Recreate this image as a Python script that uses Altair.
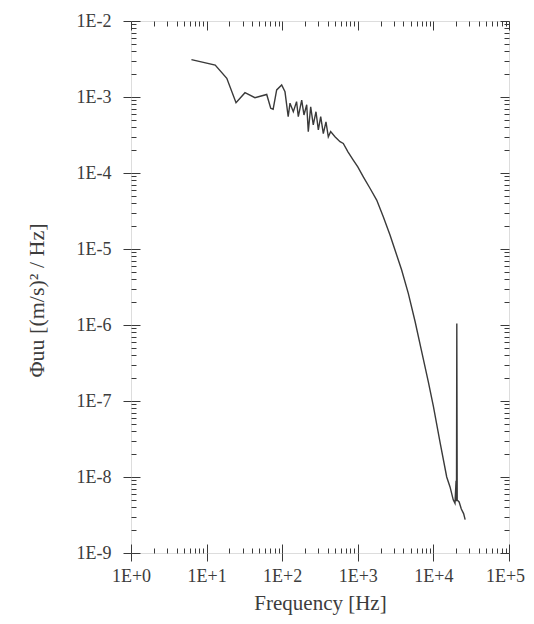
import altair as alt
import pandas as pd

# Spectrum (frequency in Hz, PSD in (m/s)^2/Hz)
freq = [6.3, 13, 18.5, 24.5, 32.2, 43.6, 62.4, 70.5, 75.9, 84.5, 98.4, 108.9,
        120, 126.8, 140.3, 154.9, 163.3, 181.1, 194.1, 210.9, 221.3, 238.2,
        257.6, 279.9, 300.6, 323.1, 349.9, 379.3, 407.4, 437.5, 499, 582, 643,
        741, 871, 1000, 1183, 1449, 1778, 2173, 2667, 3105, 3802, 4656,
        5715, 6918, 8570, 10000, 12300, 15000, 16600, 18300, 19300, 19950,
        20200, 20400, 20650, 21900, 23400, 25100, 26300]
psd = [3.1e-3, 2.63e-3, 1.76e-3, 8.4e-4, 1.14e-3, 9.8e-4, 1.08e-3, 7.1e-4,
       6.9e-4, 1.24e-3, 1.44e-3, 1.17e-3, 5.5e-4, 8.3e-4, 6.4e-4, 8.7e-4,
       5.5e-4, 9.1e-4, 5.8e-4, 7.9e-4, 3.5e-4, 7.4e-4, 4.3e-4, 6.4e-4, 3.7e-4,
       5.5e-4, 3.3e-4, 4.7e-4, 3.0e-4, 3.5e-4, 3.0e-4, 2.58e-4, 2.45e-4,
       1.9e-4, 1.48e-4, 1.2e-4, 8.9e-5, 6.3e-5, 4.4e-5, 2.66e-5, 1.53e-5,
       9.7e-6, 5.3e-6, 2.61e-6, 1.12e-6, 4.7e-7, 1.78e-7, 8.5e-8,
       2.8e-8, 1.0e-8, 7.4e-9, 5.0e-9, 4.5e-9, 8.9e-9, 4.8e-9, 1.05e-6, 5.0e-9,
       4.7e-9, 3.8e-9, 3.3e-9, 2.75e-9]

x_major = [1, 10, 100, 1000, 10000, 100000]
y_major = [1e-9, 1e-8, 1e-7, 1e-6, 1e-5, 1e-4, 1e-3, 1e-2]
mult = [2, 3, 4, 5, 6, 7, 8, 9]
x_minor = [m * d for d in x_major[:-1] for m in mult]
y_minor = [m * d for d in y_major[:-1] for m in mult]

df = pd.DataFrame({"f": freq, "p": psd})

FONT = "Liberation Serif, Times New Roman, DejaVu Serif, serif"
INK = "#3a3a3a"
TXT = "#3c3c3c"

xs = alt.Scale(type="log", domain=[1, 100000], nice=False)
ys = alt.Scale(type="log", domain=[1e-9, 1e-2], nice=False)

x_lab = ("'1E' + (round(log(datum.value)/LN10) < 0 ? '-' : '+') + "
         "abs(round(log(datum.value)/LN10))")
y_lab = "'1E-' + abs(round(log(datum.value)/LN10))"


def tick_axis(orient, values, size):
    return alt.Axis(orient=orient, values=values, tickSize=size, offset=-size,
                    labels=False, domain=False, grid=False, title=None,
                    tickColor=INK, tickWidth=1)


main = alt.Chart(df).mark_line(color=INK, strokeWidth=1.4).encode(
    x=alt.X("f:Q", scale=xs, axis=alt.Axis(
        orient="bottom", values=x_major, labelExpr=x_lab, tickSize=8,
        domain=False, grid=False, labelFont=FONT, labelFontSize=18,
        labelColor=TXT, labelPadding=6, labelFlush=False,
        labelOffset={"condition": {"test": "datum.value >= 100000", "value": -4},
                     "value": 0},
        labelOverlap=False, tickColor=INK, title="Frequency [Hz]",
        titleFont=FONT, titleFontSize=21, titleFontWeight="normal",
        titleColor=TXT, titlePadding=7)),
    y=alt.Y("p:Q", scale=ys, axis=alt.Axis(
        orient="left", values=y_major, labelExpr=y_lab, tickSize=8,
        domain=False, grid=False, labelFont=FONT, labelFontSize=18,
        labelColor=TXT, labelPadding=12, labelOverlap=False,
        tickColor=INK, title="Φuu [(m/s)² / Hz]", titleFont=FONT,
        titleFontSize=22, titleFontWeight="normal", titleColor=TXT,
        titlePadding=28, titleY=279)),
)

ghost = alt.Chart(df).mark_line(opacity=0)

layers = [main]
for xo, yo in [("bottom", "left"), ("top", "right")]:
    for vals_x, vals_y, size in [(x_major, y_major, 9), (x_minor, y_minor, 5)]:
        layers.append(ghost.encode(
            x=alt.X("f:Q", scale=xs, axis=tick_axis(xo, vals_x, size)),
            y=alt.Y("p:Q", scale=ys, axis=tick_axis(yo, vals_y, size)),
        ))

chart = alt.layer(*layers).resolve_axis(x="independent", y="independent").properties(
    width=378, height=532,
    autosize=alt.AutoSizeParams(type="none"),
    padding={"left": 123, "top": 13, "right": 17, "bottom": 63},
).configure_view(stroke=INK, strokeWidth=1).configure(background="white")

chart.save("out.html", embed_options={"renderer": "svg", "actions": False})
